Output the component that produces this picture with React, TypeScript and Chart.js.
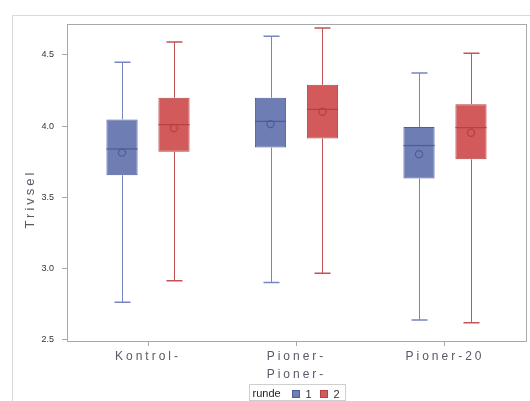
import React, { useEffect, useRef } from 'react';
import { Chart, registerables } from 'chart.js';

Chart.register(...registerables);

const categories: string[][] = [['Kontrol-'], ['Pioner-', 'Pioner-'], ['Pioner-20']];
const categoryPositions = [1, 2, 3];
const seriesNames = ['1', '2'];

const r1Min = [2.76, 2.9, 2.635];
const r1Q1 = [3.654, 3.849, 3.631];
const r1Median = [3.839, 4.033, 3.863];
const r1Q3 = [4.047, 4.199, 3.993];
const r1Max = [4.449, 4.631, 4.374];
const r1Mean = [3.813, 4.014, 3.802];

const r2Min = [2.911, 2.965, 2.616];
const r2Q1 = [3.82, 3.912, 3.766];
const r2Median = [4.01, 4.117, 3.989];
const r2Q3 = [4.199, 4.29, 4.154];
const r2Max = [4.592, 4.69, 4.512];
const r2Mean = [3.986, 4.101, 3.953];

const yTicks = [2.5, 3.0, 3.5, 4.0, 4.5];
const yTitle = 'Trivsel';
const legendTitle = 'runde';

const FONT = "'Liberation Sans', Arial, sans-serif";
const fills = ['#6f7db5', '#d25a5a'];
const borders = ['#4d5c9b', '#b34242'];
const whiskers = ['#7886bf', '#c25353'];

const stats = [
  { min: r1Min, q1: r1Q1, med: r1Median, q3: r1Q3, max: r1Max, mean: r1Mean },
  { min: r2Min, q1: r2Q1, med: r2Median, q3: r2Q3, max: r2Max, mean: r2Mean },
];

const boxPlugin = {
  id: 'boxExtras',
  beforeDraw(chart: any) {
    const ctx = chart.ctx;
    ctx.save();
    ctx.strokeStyle = '#d9d9d9';
    ctx.lineWidth = 1;
    ctx.beginPath();
    ctx.moveTo(12.5, chart.height);
    ctx.lineTo(12.5, 15.5);
    ctx.lineTo(chart.width, 15.5);
    ctx.stroke();
    ctx.restore();
  },
  afterDatasetsDraw(chart: any) {
    const ctx = chart.ctx;
    const y = chart.scales.y;
    ctx.save();
    stats.forEach((s, di) => {
      const meta = chart.getDatasetMeta(di);
      meta.data.forEach((bar: any, i: number) => {
        const x = Math.round(bar.x) + 0.5;
        const half = bar.width / 2;
        const pMin = y.getPixelForValue(s.min[i]);
        const pQ1 = y.getPixelForValue(s.q1[i]);
        const pQ3 = y.getPixelForValue(s.q3[i]);
        const pMax = y.getPixelForValue(s.max[i]);
        const pMed = y.getPixelForValue(s.med[i]);
        const pMean = y.getPixelForValue(s.mean[i]);
        ctx.strokeStyle = whiskers[di];
        ctx.lineWidth = 1;
        ctx.beginPath();
        ctx.moveTo(x, pQ3);
        ctx.lineTo(x, pMax);
        ctx.moveTo(x, pQ1);
        ctx.lineTo(x, pMin);
        ctx.stroke();
        ctx.lineWidth = 1.5;
        ctx.beginPath();
        ctx.moveTo(x - 8, pMax);
        ctx.lineTo(x + 8, pMax);
        ctx.moveTo(x - 8, pMin);
        ctx.lineTo(x + 8, pMin);
        ctx.stroke();
        ctx.strokeStyle = borders[di];
        ctx.lineWidth = 1.2;
        ctx.beginPath();
        ctx.moveTo(bar.x - half, pMed);
        ctx.lineTo(bar.x + half, pMed);
        ctx.stroke();
        ctx.beginPath();
        ctx.arc(bar.x, pMean, 3.6, 0, Math.PI * 2);
        ctx.stroke();
      });
    });
    ctx.restore();
  },
  afterDraw(chart: any) {
    const ctx = chart.ctx;
    const area = chart.chartArea;
    const xs = chart.scales.x;
    ctx.save();
    ctx.strokeStyle = '#a8a8a8';
    ctx.lineWidth = 1;
    ctx.strokeRect(Math.round(area.left) + 0.5, Math.round(area.top) + 0.5,
      Math.round(area.right - area.left), Math.round(area.bottom - area.top));
    ctx.fillStyle = '#555a66';
    ctx.font = `12px ${FONT}`;
    (ctx as any).letterSpacing = '3px';
    ctx.textAlign = 'center';
    ctx.textBaseline = 'alphabetic';
    categories.forEach((lines, i) => {
      const px = xs.getPixelForValue(categoryPositions[i]);
      lines.forEach((t, li) => {
        ctx.fillText(t, px, area.bottom + 18.5 + li * 18.5);
      });
    });
    ctx.save();
    ctx.font = `13px ${FONT}`;
    ctx.fillStyle = '#555a66';
    ctx.translate(34, 199);
    ctx.rotate(-Math.PI / 2);
    ctx.textAlign = 'center';
    ctx.fillText(yTitle, 0, 0);
    ctx.restore();
    (ctx as any).letterSpacing = '0px';
    const cx = (area.left + area.right) / 2;
    const lx = Math.round(cx - 48) + 0.5;
    ctx.strokeStyle = '#cfcfcf';
    ctx.strokeRect(lx, 384.5, 96, 16);
    ctx.font = `11px ${FONT}`;
    ctx.fillStyle = '#222';
    ctx.textAlign = 'left';
    ctx.fillText(legendTitle, lx + 3, 397);
    const itemX = [lx + 43, lx + 71];
    seriesNames.forEach((n, i) => {
      ctx.fillStyle = fills[i];
      ctx.fillRect(itemX[i], 390.5, 7, 7);
      ctx.strokeStyle = borders[i];
      ctx.strokeRect(itemX[i], 390.5, 7, 7);
      ctx.fillStyle = '#333';
      ctx.fillText(n, itemX[i] + 13, 397.5);
    });
    ctx.restore();
  },
};

export default function App() {
  const ref = useRef<HTMLCanvasElement>(null);
  useEffect(() => {
    if (!ref.current) return;
    const chart = new Chart(ref.current, {
      type: 'bar',
      data: {
        datasets: stats.map((s, di) => ({
          label: seriesNames[di],
          data: categoryPositions.map((x, i) => ({ x, y: [s.q1[i], s.q3[i]] })),
          backgroundColor: fills[di],
          borderColor: borders[di],
          borderWidth: 1,
          borderSkipped: false,
          categoryPercentage: 0.7,
          barPercentage: 0.6,
        })),
      },
      options: {
        animation: false,
        responsive: false,
        layout: { padding: { left: 0, top: 24, right: 4, bottom: 0 } },
        plugins: { legend: { display: false }, tooltip: { enabled: false } },
        scales: {
          x: {
            type: 'linear',
            offset: false,
            min: 0.4545,
            max: 3.5455,
            afterBuildTicks: (s: any) => {
              s.ticks = categoryPositions.map((v) => ({ value: v }));
            },
            afterFit: (s: any) => {
              s.height = 60;
            },
            ticks: { display: false },
            grid: { drawOnChartArea: false, drawTicks: true, tickLength: 5, color: '#a8a8a8', offset: false },
            border: { color: '#a8a8a8' },
          },
          y: {
            type: 'linear',
            min: 2.488,
            max: 4.718,
            afterBuildTicks: (s: any) => {
              s.ticks = yTicks.map((v) => ({ value: v }));
            },
            afterFit: (s: any) => {
              s.width = 67;
            },
            ticks: {
              callback: (v: any) => Number(v).toFixed(1),
              font: { size: 9, family: FONT },
              color: '#333',
              padding: 8,
            },
            grid: { drawOnChartArea: false, drawTicks: true, tickLength: 5, color: '#a8a8a8' },
            border: { color: '#a8a8a8' },
          },
        },
      },
      plugins: [boxPlugin],
    } as any);
    return () => chart.destroy();
  }, []);
  return (
    <div style={{ position: 'fixed', left: 0, top: 0, width: 530, height: 401, background: '#fff' }}>
      <canvas ref={ref} width={530} height={401} style={{ display: 'block' }} />
    </div>
  );
}
